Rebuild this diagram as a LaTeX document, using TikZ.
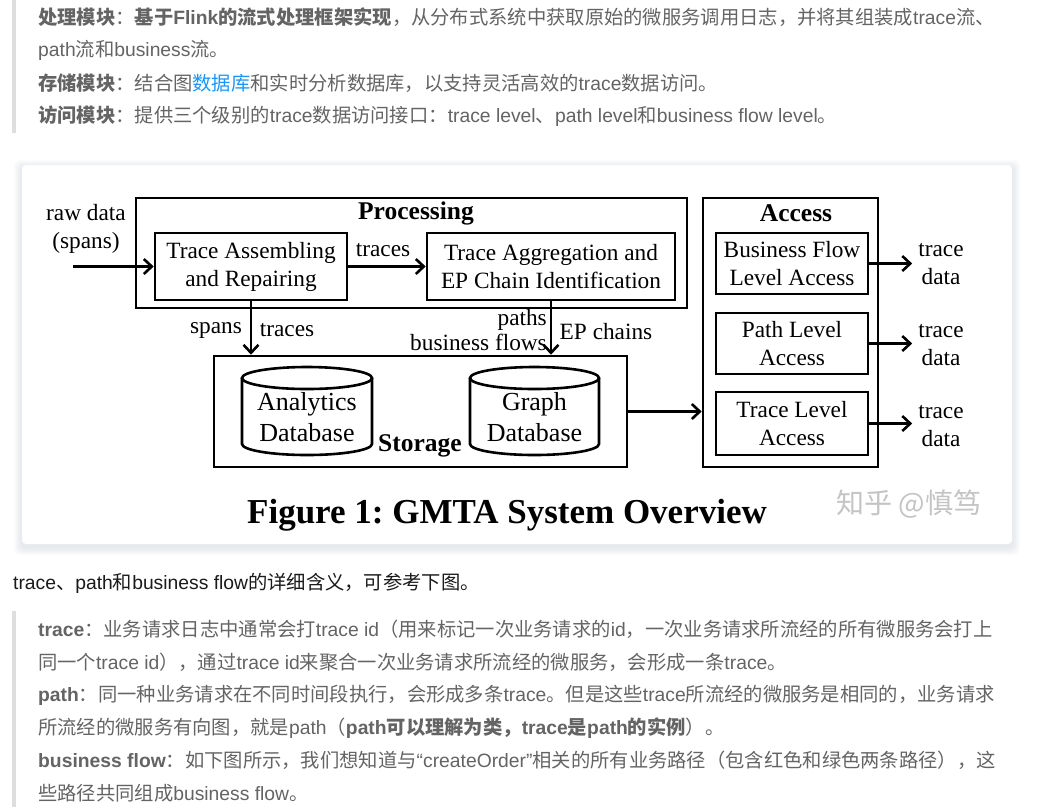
\documentclass[tikz,border=0pt]{standalone}
\usepackage{fontspec}
\newfontfamily\cjk{Noto Sans CJK SC}
\newfontfamily\latf{Liberation Sans}
\newfontfamily\figf{Liberation Serif}
\newcommand\lt[1]{{\latf #1}}
\usetikzlibrary{arrows.meta}
\definecolor{bodyc}{HTML}{646464}
\definecolor{darkc}{HTML}{1A1A1A}
\definecolor{linkc}{HTML}{1A96FF}
\definecolor{barc}{HTML}{DEDEDE}
\definecolor{shc}{HTML}{C9CED9}
\definecolor{wmc}{HTML}{C4C4C4}
\begin{document}
\begin{tikzpicture}[x=1pt,y=-1pt,
 txt/.style={anchor=west, inner sep=0pt, font=\cjk\fontsize{19.3}{24}\selectfont, text=bodyc},
 box/.style={draw, line width=2.6pt, inner sep=0pt, align=center, font=\figf\fontsize{23.3}{28}\selectfont},
 lab/.style={inner sep=0pt, align=center, font=\figf\fontsize{23.3}{28}\selectfont},
 cyl/.style={inner sep=0pt, align=center, font=\figf\fontsize{26}{31}\selectfont},
 head/.style={inner sep=0pt, font=\figf\bfseries\fontsize{25.5}{30}\selectfont},
 arr/.style={line width=2.6pt, -{Straight Barb[length=8pt,width=15pt]}},
 fl/.style={line width=2.6pt}
]
\useasboundingbox[fill=white] (0,0) rectangle (1054,807);
% quote bars
\fill[barc] (12,0) rectangle (16,133);
\fill[barc] (12,611) rectangle (16,807);
% top text
\node[txt] (l1) at (38,17) {{\bfseries 处理模块}：{\bfseries 基于\lt{Flink}的流式处理框架实现}，从分布式系统中获取原始的微服务调用日志，并将其组装成\lt{trace}流、};
\node[txt] (l2) at (38,50) {\lt{path}流和\lt{business}流。};
\node[txt] (l3) at (38,83) {{\bfseries 存储模块}：结合图{\color{linkc}数据库}和实时分析数据库，以支持灵活高效的\lt{trace}数据访问。};
\node[txt] (l4) at (38,116) {{\bfseries 访问模块}：提供三个级别的\lt{trace}数据访问接口：\lt{trace level}、\lt{path level}和\lt{business flow level}。};
% card
\foreach \i in {1,...,8}
  \fill[shc, opacity=0.06, rounded corners=6pt] (22-\i,165-\i+3) rectangle (1012+\i,544+\i+3);
\fill[white, rounded corners=4pt] (22,165) rectangle (1012,544);
% figure
\node[box, minimum width=551pt, minimum height=110pt] (proc) at (411.5,253) {};
\node[head] (proch) at (416,213) {Processing};
\node[box, minimum width=192pt, minimum height=67pt] (tar) at (251,266.5) {Trace Assembling\\and Repairing};
\node[box, minimum width=248pt, minimum height=67pt] (tag) at (551,266.5) {Trace Aggregation and\\EP Chain Identification};
\node[lab] (raw) at (86,229) {raw data\\(spans)};
\coordinate (rawin) at (73,266.5);
\draw[arr] (rawin) -- (tar.west);
\draw[arr] (tar.east) -- (tag.west);
\node[lab] (trl) at (383,250) {traces};

\node[box, minimum width=413pt, minimum height=111pt] (sto) at (420.5,411.5) {};
\node[head] (stoh) at (420,446) {Storage};
% cylinders
\draw[fl] (242,378) -- (242,444) arc[start angle=180, end angle=360, x radius=65pt, y radius=11pt] -- (372,378);
\draw[fl] (307,378) ellipse[x radius=65pt, y radius=11pt];
\node[cyl] (ana) at (307,417.5) {Analytics\\Database};
\draw[fl] (470,378) -- (470,444) arc[start angle=180, end angle=360, x radius=64.5pt, y radius=11pt] -- (599,378);
\draw[fl] (534.5,378) ellipse[x radius=64.5pt, y radius=11pt];
\node[cyl] (gra) at (534.5,417.5) {Graph\\Database};

\draw[arr] (tar.south) -- (tar.south |- sto.north);
\node[lab] (spl) at (216,330) {spans};
\node[lab] (trl2) at (287,330) {traces};
\draw[arr] (tag.south) -- (tag.south |- sto.north);
\node[inner sep=0pt, align=right, anchor=east, font=\figf\fontsize{23.3}{25}\selectfont] (pbl) at (547,330.5) {paths\\business flows};
\node[lab] (epl) at (606,332) {EP chains};

\node[box, minimum width=175pt, minimum height=269pt] (acc) at (790.5,332.5) {};
\node[head] (acch) at (796,213) {Access};
\node[box, minimum width=152pt, minimum height=61pt] (bfa) at (792,263.5) {Business Flow\\Level Access};
\node[box, minimum width=152pt, minimum height=61pt] (pla) at (792,343.5) {Path Level\\Access};
\node[box, minimum width=152pt, minimum height=63pt] (tla) at (792,423.5) {Trace Level\\Access};
\draw[arr] (sto.east) -- (sto.east -| acc.west);

\node[lab] (td1) at (941,264) {trace\\data};
\node[lab] (td2) at (941,345.5) {trace\\data};
\node[lab] (td3) at (941,426.5) {trace\\data};
\draw[arr, shorten >=6pt] (bfa.east) -- (bfa.east -| td1.west);
\draw[arr, shorten >=6pt] (pla.east) -- (pla.east -| td2.west);
\draw[arr, shorten >=6pt] (tla.east) -- (tla.east -| td3.west);

\node[inner sep=0pt, font=\figf\bfseries\frenchspacing\fontsize{35}{40}\selectfont] (cap) at (507,515) {Figure 1: GMTA System Overview};
\node[inner sep=0pt, text=wmc, font=\cjk\fontsize{28}{32}\selectfont] (wm) at (909,504) {知乎 @慎笃};

% bottom text
\node[txt, text=darkc] (m1) at (13,583) {\lt{trace}、\lt{path}和\lt{business flow}的详细含义，可参考下图。};
\node[txt] (b1) at (38,629) {{\bfseries \lt{trace}}：业务请求日志中通常会打\lt{trace id}（用来标记一次业务请求的\lt{id}，一次业务请求所流经的所有微服务会打上};
\node[txt] (b2) at (38,662) {同一个\lt{trace id}），通过\lt{trace id}来聚合一次业务请求所流经的微服务，会形成一条\lt{trace}。};
\node[txt] (b3) at (38,695) {{\bfseries \lt{path}}：同一种业务请求在不同时间段执行，会形成多条\lt{trace}。但是这些\lt{trace}所流经的微服务是相同的，业务请求};
\node[txt] (b4) at (38,728) {所流经的微服务有向图，就是\lt{path}（{\bfseries \lt{path}可以理解为类，\lt{trace}是\lt{path}的实例}）。};
\node[txt] (b5) at (38,760) {{\bfseries \lt{business flow}}：如下图所示，我们想知道与\lt{“createOrder”}相关的所有业务路径（包含红色和绿色两条路径），这};
\node[txt] (b6) at (38,793) {些路径共同组成\lt{business flow}。};
\end{tikzpicture}
\end{document}
